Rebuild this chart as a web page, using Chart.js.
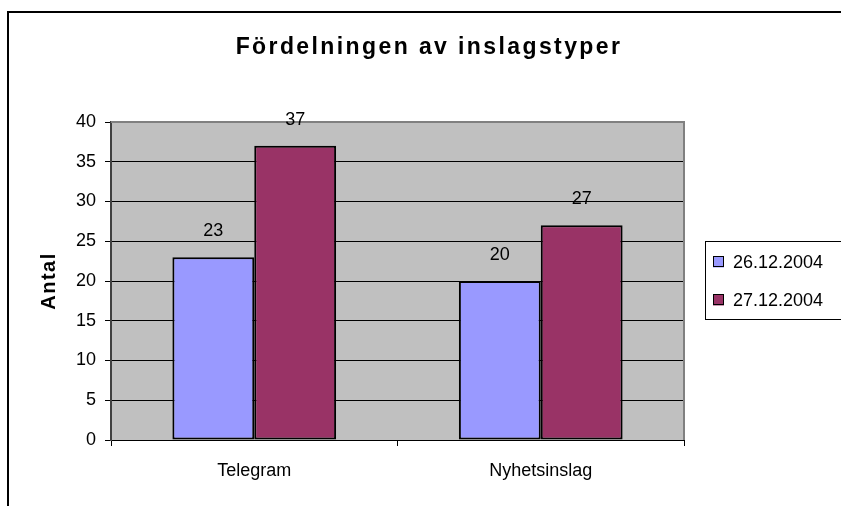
<!DOCTYPE html>
<html>
<head>
<meta charset="utf-8">
<script src="https://cdn.jsdelivr.net/npm/chart.js@4/dist/chart.umd.min.js"></script>
<style>
  html, body { margin: 0; padding: 0; background: #fff; }
  #chart { display: block; }
</style>
</head>
<body>
<canvas id="chart" width="841" height="506"></canvas>
<script>
const categories = ['Telegram', 'Nyhetsinslag'];
const seriesNames = ['26.12.2004', '27.12.2004'];
const values2612 = [23, 20];
const values2712 = [37, 27];
const yTicks = { min: 0, max: 40, step: 5 };
const chartTitle = 'Fördelningen av inslagstyper';
const yTitle = 'Antal';

const FONT = 'Arial, "Liberation Sans", sans-serif';

// grey plot area + frame of the whole chart
const background = {
  id: 'background',
  beforeDraw(chart) {
    const { ctx, chartArea: a } = chart;
    ctx.save();
    ctx.fillStyle = '#fff';
    ctx.fillRect(0, 0, chart.width, chart.height);
    ctx.fillStyle = '#000';
    ctx.fillRect(7, 11, 2, chart.height - 11);
    ctx.fillRect(7, 11, chart.width - 7, 2);
    ctx.fillStyle = '#C0C0C0';
    ctx.fillRect(a.left, a.top, a.right - a.left, a.bottom - a.top);
    ctx.restore();
  },
  afterDatasetsDraw(chart) {
    const { ctx, chartArea: a } = chart;
    ctx.save();
    ctx.strokeStyle = '#808080';
    ctx.lineWidth = 2;
    ctx.beginPath();
    ctx.moveTo(a.left, a.top);
    ctx.lineTo(a.right, a.top);
    ctx.lineTo(a.right, a.bottom);
    ctx.stroke();
    // value labels
    ctx.fillStyle = '#000';
    ctx.font = '18px ' + FONT;
    ctx.textAlign = 'center';
    ctx.textBaseline = 'middle';
    chart.data.datasets.forEach((ds, i) => {
      chart.getDatasetMeta(i).data.forEach((bar, j) => {
        ctx.fillText(String(ds.data[j]), bar.x, bar.y - 26);
      });
    });
    ctx.restore();
  }
};

// titles with the wide Excel letter spacing
const titles = {
  id: 'titles',
  afterDraw(chart) {
    const { ctx } = chart;
    ctx.save();
    ctx.fillStyle = '#000';
    ctx.textAlign = 'center';
    ctx.textBaseline = 'alphabetic';
    ctx.font = 'bold 23px ' + FONT;
    ctx.letterSpacing = '2.4px';
    ctx.fillText(chartTitle, 429, 54);
    ctx.translate(55, 281);
    ctx.rotate(-Math.PI / 2);
    ctx.font = 'bold 20px ' + FONT;
    ctx.letterSpacing = '1.5px';
    ctx.fillText(yTitle, 0, 0);
    ctx.restore();
  }
};

// Excel-like legend box on the right
const boxLegend = {
  id: 'boxLegend',
  afterDraw(chart) {
    const { ctx } = chart;
    const x = 705, y = 241, w = 140, h = 78;
    ctx.save();
    ctx.strokeStyle = '#000';
    ctx.lineWidth = 1;
    ctx.strokeRect(x + 0.5, y + 0.5, w, h);
    ctx.font = '18px ' + FONT;
    ctx.textBaseline = 'middle';
    chart.data.datasets.forEach((ds, i) => {
      const cy = 262 + i * 38;
      ctx.fillStyle = ds.backgroundColor;
      ctx.fillRect(713, cy - 5.5, 11, 11);
      ctx.strokeStyle = '#000';
      ctx.strokeRect(713.5, cy - 5.5, 10, 10);
      ctx.fillStyle = '#000';
      ctx.fillText(ds.label, 733, cy + 1);
    });
    ctx.restore();
  }
};

new Chart(document.getElementById('chart'), {
  type: 'bar',
  data: {
    labels: categories,
    datasets: [{
      label: seriesNames[0],
      data: values2612,
      backgroundColor: '#9999FF',
      borderColor: '#000',
      borderWidth: 2,
      borderSkipped: false
    }, {
      label: seriesNames[1],
      data: values2712,
      backgroundColor: '#993366',
      borderColor: '#000',
      borderWidth: 2,
      borderSkipped: false
    }]
  },
  options: {
    responsive: false,
    animation: false,
    layout: { padding: { left: 0, right: 157, top: 122, bottom: 0 } },
    categoryPercentage: 2 / 3.5,
    barPercentage: 1,
    plugins: {
      legend: { display: false },
      tooltip: { enabled: false },
      title: { display: false }
    },
    scales: {
      x: {
        offset: true,
        afterFit(scale) { scale.height = 66; },
        border: { color: '#000', width: 1 },
        grid: { offset: true, drawOnChartArea: false, drawTicks: true, tickLength: 6, color: '#000' },
        ticks: { color: '#000', font: { family: FONT, size: 18 }, padding: 14 }
      },
      y: {
        min: yTicks.min,
        max: yTicks.max,
        afterFit(scale) { scale.width = 111; },
        border: { color: '#404040', width: 2 },
        grid: { color: '#000', tickLength: 6 },
        ticks: { stepSize: yTicks.step, color: '#000', font: { family: FONT, size: 18 }, padding: 9 }
      }
    }
  },
  plugins: [background, titles, boxLegend]
});
</script>
</body>
</html>
